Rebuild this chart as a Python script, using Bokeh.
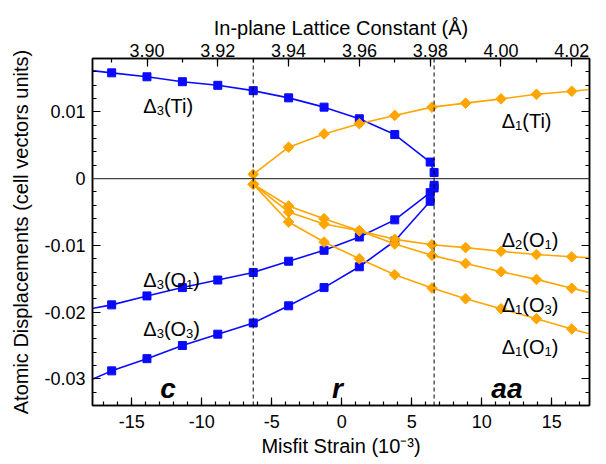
import numpy as np
from bokeh.plotting import figure
from bokeh.models import (Range1d, LinearAxis, FixedTicker, CustomJSTickFormatter,
                          Span, Label)
from bokeh.embed import file_html
from bokeh.resources import INLINE

# ---------------- data (misfit strain in 1e-3, displacements in cell units) -------------
# c / r phase (blue, Delta_3 components)
strain_blue = [-18.96, -16.43, -13.91, -11.38, -8.85, -6.32, -3.79, -1.26, 1.26, 3.79, 6.32, 6.60]
d3_Ti = [0.01645, 0.01585, 0.01526, 0.01452, 0.01398, 0.01318, 0.01210, 0.01071, 0.00897, 0.00660, 0.00248, 0.00091]
d3_O1 = [-0.0199, -0.01892, -0.01758, -0.01633, -0.01520, -0.01406, -0.01238, -0.01074, -0.00875, -0.00618, -0.0021, -0.0010]
d3_O3 = [-0.0311, -0.02881, -0.02698, -0.02501, -0.02331, -0.02163, -0.01906, -0.01633, -0.01321, -0.00935, -0.0034, -0.0014]

# r / aa phase (orange, Delta_1 / Delta_2 components)
strain_orange = [-6.32, -3.79, -1.26, 1.26, 3.79, 6.45, 8.85, 11.38, 13.91, 16.43, 18.96]
d1_Ti = [0.00065, 0.00471, 0.00670, 0.00823, 0.00947, 0.01071, 0.01131, 0.01195, 0.01264, 0.01309, 0.0136]
d2_O1 = [-0.00083, -0.0050, -0.0068, -0.0078, -0.0091, -0.0099, -0.01034, -0.01089, -0.01138, -0.01172, -0.0120]
d1_O3 = [-0.00083, -0.0041, -0.0060, -0.0078, -0.0098, -0.0115, -0.01272, -0.01395, -0.01510, -0.01643, -0.0177]
d1_O1 = [-0.00083, -0.0065, -0.0095, -0.0120, -0.0144, -0.0164, -0.0180, -0.0195, -0.0210, -0.02253, -0.0240]

phase_boundaries = [-6.32, 6.60]
phase_names = ["c", "r", "aa"]
phase_name_x = [-12.4, -0.3, 11.8]

x_ticks = [-15, -10, -5, 0, 5, 10, 15]
y_ticks = [-0.03, -0.02, -0.01, 0.0, 0.01]
lattice_ticks = [3.90, 3.92, 3.94, 3.96, 3.98, 4.00, 4.02]
a_ref = 3.955  # lattice constant at zero misfit strain

# ---------------- figure -------------
FONT = "Liberation Sans"
BLUE = "#0a0aff"
ORANGE = "#ffa500"
x0, x1 = -17.8, 17.7

p = figure(width=606, height=464, output_backend="svg", toolbar_location=None,
           x_range=Range1d(x0, x1), y_range=Range1d(-0.034, 0.018),
           min_border_left=92, min_border_right=17, min_border_top=58, min_border_bottom=59)
p.grid.visible = False
p.outline_line_color = "black"
p.outline_line_width = 1.5
p.background_fill_color = "white"
p.border_fill_color = "white"


def style_axis(ax):
    ax.major_tick_in = 8
    ax.major_tick_out = 0
    ax.minor_tick_in = 4
    ax.minor_tick_out = 0
    ax.axis_line_color = "black"
    ax.axis_line_width = 1.5
    ax.major_tick_line_color = "black"
    ax.minor_tick_line_color = "black"
    ax.major_tick_line_width = 1.2
    ax.minor_tick_line_width = 1.2
    ax.major_label_text_font = FONT
    ax.major_label_text_font_size = "18px"
    ax.major_label_text_color = "black"
    ax.axis_label_text_font = FONT
    ax.axis_label_text_font_size = "20px"
    ax.axis_label_text_font_style = "normal"
    ax.axis_label_text_color = "black"


x_minor = list(range(-17, 18))
y_minor = [round(-0.034 + 0.002 * i, 3) for i in range(27)]
lat_minor = [round(3.89 + 0.01 * i, 2) for i in range(14)]

# bottom axis
xb = p.xaxis[0]
style_axis(xb)
xb.ticker = FixedTicker(ticks=x_ticks, minor_ticks=x_minor)
xb.formatter = CustomJSTickFormatter(code="return tick.toFixed(0);")
xb.axis_label = "Misfit Strain (10\u207b\u00b3)"
xb.major_label_standoff = 9
xb.axis_label_standoff = 4

# left axis
yl = p.yaxis[0]
style_axis(yl)
yl.ticker = FixedTicker(ticks=y_ticks, minor_ticks=y_minor)
yl.formatter = CustomJSTickFormatter(code="return Math.abs(tick) < 1e-9 ? '0' : tick.toFixed(2);")
yl.axis_label = "Atomic Displacements (cell vectors units)"
yl.major_label_standoff = 7
yl.axis_label_standoff = 9

# top axis (lattice constant)
p.extra_x_ranges = {"lat": Range1d(a_ref * (1 + x0 / 1000.0), a_ref * (1 + x1 / 1000.0))}
xt = LinearAxis(x_range_name="lat")
style_axis(xt)
xt.ticker = FixedTicker(ticks=lattice_ticks, minor_ticks=lat_minor)
xt.formatter = CustomJSTickFormatter(code="return tick.toFixed(2);")
xt.axis_label = "In-plane Lattice Constant (\u00c5)"
xt.major_label_standoff = 2
xt.axis_label_standoff = 2
p.add_layout(xt, "above")

# right axis (ticks only)
yr = LinearAxis()
style_axis(yr)
yr.ticker = FixedTicker(ticks=y_ticks, minor_ticks=y_minor)
yr.formatter = CustomJSTickFormatter(code="return '';")
yr.major_label_text_font_size = "0px"
yr.major_label_standoff = 0
p.add_layout(yr, "right")

# reference lines
p.add_layout(Span(location=0, dimension="width", line_color="#444444", line_width=1.3))
for xb_ in phase_boundaries:
    p.add_layout(Span(location=xb_, dimension="height", line_color="black",
                      line_width=1, line_dash="4 3"))

# series
for ys in (d3_Ti, d3_O1, d3_O3):
    p.line(strain_blue, ys, line_color=BLUE, line_width=1.6)
    p.scatter(strain_blue, ys, marker="square", size=8, fill_color=BLUE, line_color=BLUE)

for ys in (d1_Ti, d2_O1, d1_O3, d1_O1):
    p.line(strain_orange, ys, line_color=ORANGE, line_width=1.6)
    p.scatter(strain_orange, ys, marker="square", angle=np.pi / 4, size=7.5,
              fill_color=ORANGE, line_color=ORANGE)

# composite labels with subscripts
W = {"\u0394": 0.667, "(": 0.333, ")": 0.333, "T": 0.611, "i": 0.222, "O": 0.778,
     "1": 0.556, "2": 0.556, "3": 0.556}


def delta_label(x, y, sub1, atom, sub2=None):
    fs, ss = 20, 13
    if sub2 is None:
        parts = [("\u0394", fs, 0), (sub1, ss, -4.5), ("(" + atom + ")", fs, 0)]
    else:
        parts = [("\u0394", fs, 0), (sub1, ss, -4.5), ("(" + atom, fs, 0),
                 (sub2, ss, -4.5), (")", fs, 0)]
    off = 0.0
    for txt, size, dy in parts:
        p.add_layout(Label(x=x, y=y, x_offset=off, y_offset=dy, text=txt,
                           text_font=FONT, text_font_size=f"{size}px",
                           text_color="black", text_baseline="alphabetic",
                           text_align="left"))
        off += sum(W[c] for c in txt) * size


delta_label(-14.17, 0.0109, "3", "Ti")
delta_label(11.43, 0.0087, "1", "Ti")
delta_label(-14.17, -0.0152, "3", "O", "1")
delta_label(-14.17, -0.0226, "3", "O", "3")
delta_label(11.43, -0.0092, "2", "O", "1")
delta_label(11.43, -0.0190, "1", "O", "3")
delta_label(11.43, -0.0252, "1", "O", "1")

for name, xn in zip(phase_names, phase_name_x):
    p.add_layout(Label(x=xn, y=-0.0314, text=name, text_font=FONT,
                       text_font_size="28px", text_font_style="bold italic",
                       text_color="black", text_align="center",
                       text_baseline="alphabetic"))

with open("out.html", "w") as f:
    f.write(file_html(p, INLINE))
